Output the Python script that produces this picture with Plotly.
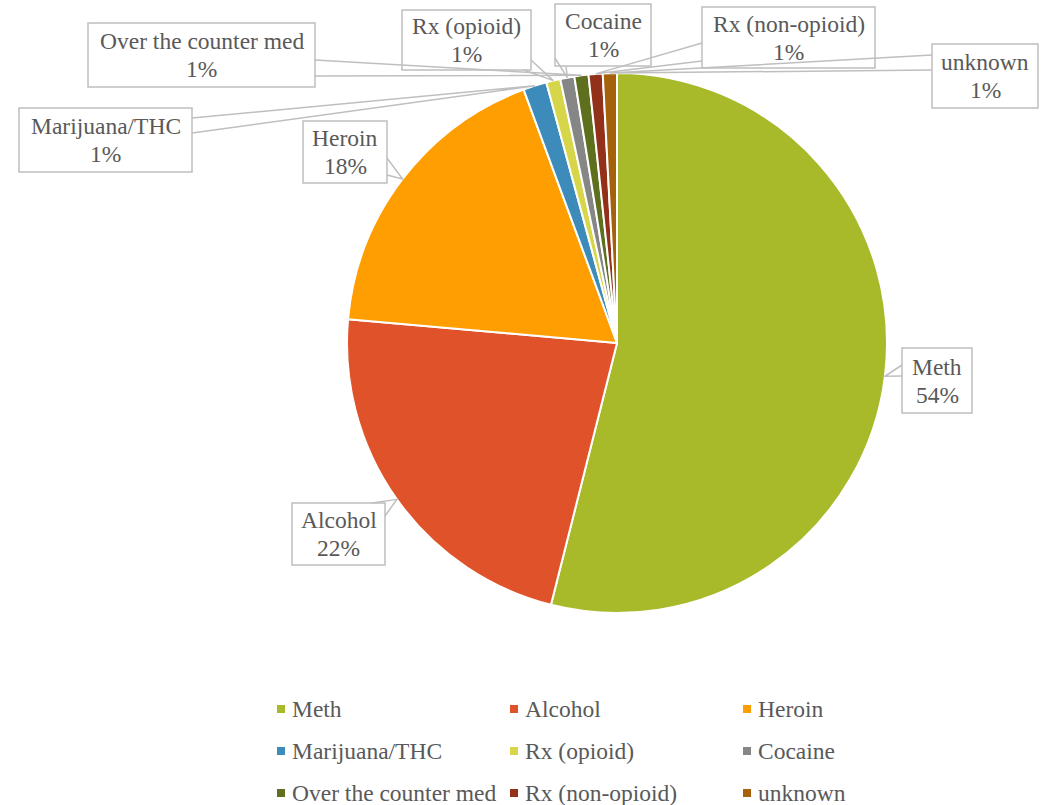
import math
import plotly.graph_objects as go

# ---- data ----
categories = ["Meth", "Alcohol", "Heroin", "Marijuana/THC", "Rx (opioid)",
              "Cocaine", "Over the counter med", "Rx (non-opioid)", "unknown"]
counts = [192, 80, 64, 5, 3, 3, 3, 3, 3]
colors = ["#A8B92A", "#E0532A", "#FF9E00", "#3C8BBA", "#D7D64A",
          "#868686", "#5E6F1E", "#93301A", "#A5620B"]

# ---- layout constants (pixels from top-left) ----
W, H = 1043, 805
CX, CY, R = 617, 343, 270
FONT = "Liberation Serif"
TXT = "#595959"
BORDER = "#BFBFBF"
FS = 23.5

# label boxes (x0, x1, y0, y1) and pointer base points
label_box = {
    "Meth": ((902, 972, 348, 413), [(902, 365), (902, 376)]),
    "Alcohol": ((292, 385, 503, 565), [(372, 503), (385, 516)]),
    "Heroin": ((303, 387, 121, 183), [(387, 158), (387, 175)]),
    "Marijuana/THC": ((19, 192, 108, 172), [(192, 118), (192, 133)]),
    "Rx (opioid)": ((402, 531, 10, 70), [(531, 60), (524, 70)]),
    "Cocaine": ((555, 651, 4, 66), [(555, 58), (566, 66)]),
    "Over the counter med": ((88, 315, 23, 87), [(315, 60), (315, 76)]),
    "Rx (non-opioid)": ((702, 875, 7, 68), [(702, 43), (702, 61)]),
    "unknown": ((932, 1038, 44, 108), [(932, 55), (932, 70)]),
}


def P(x, y):
    return x / W, 1 - y / H


total = sum(counts)

fig = go.Figure()
fig.add_trace(go.Pie(
    labels=categories, values=counts, sort=False, direction="clockwise",
    rotation=0, textinfo="none", hoverinfo="label+percent",
    marker=dict(colors=colors, line=dict(color="white", width=2)),
    domain=dict(x=[(CX - R) / W, (CX + R) / W], y=[1 - (CY + R) / H, 1 - (CY - R) / H]),
    showlegend=False,
))

shapes = []
annotations = []
cum = 0
for cat, v in zip(categories, counts):
    frac = v / total
    mid = (cum + frac / 2) * 2 * math.pi
    cum += frac
    tx = CX + R * math.sin(mid)
    ty = CY - R * math.cos(mid)
    (bx0, bx1, by0, by1), bases = label_box[cat]
    # box
    p0 = P(bx0, by0); p1 = P(bx1, by1)
    shapes.append(dict(type="rect", xref="paper", yref="paper",
                       x0=p0[0], y0=p1[1], x1=p1[0], y1=p0[1],
                       fillcolor="white", line=dict(color=BORDER, width=1.5), layer="above"))
    # pointer
    (x1, y1), (x2, y2) = bases
    a = P(x1, y1); t = P(tx, ty); b = P(x2, y2)
    shapes.append(dict(type="path", xref="paper", yref="paper",
                       path=f"M {a[0]},{a[1]} L {t[0]},{t[1]} L {b[0]},{b[1]}",
                       line=dict(color=BORDER, width=1.5), layer="above"))
    pct = round(frac * 100)
    cx = (bx0 + bx1) / 2
    cy = (by0 + by1) / 2
    for txt, dy in ((cat, -14), (f"{pct}%", 14)):
        lx, ly = P(cx, cy + dy)
        annotations.append(dict(x=lx, y=ly, xref="paper", yref="paper", text=txt,
                                showarrow=False, xanchor="center", yanchor="middle",
                                font=dict(family=FONT, size=FS, color=TXT)))

# ---- custom legend (3 columns) ----
col_x = [281, 514, 747]
row_y = [709, 751, 793]
for i, (cat, c) in enumerate(zip(categories, colors)):
    mx = col_x[i % 3]
    my = row_y[i // 3]
    q0 = P(mx - 4, my - 4)
    q1 = P(mx + 4, my + 4)
    shapes.append(dict(type="rect", xref="paper", yref="paper",
                       x0=q0[0], y0=q1[1], x1=q1[0], y1=q0[1], fillcolor=c, line=dict(width=0)))
    lx, ly = P(mx + 9, my)
    annotations.append(dict(x=lx, y=ly, xref="paper", yref="paper", text=cat,
                            showarrow=False, xanchor="left", yanchor="middle",
                            font=dict(family=FONT, size=FS, color=TXT)))

fig.update_layout(
    width=W, height=H, margin=dict(l=0, r=0, t=0, b=0),
    paper_bgcolor="white", plot_bgcolor="white",
    shapes=shapes, annotations=annotations,
)
fig.write_html("out.html", config={"displayModeBar": False},
               post_script="document.body.style.margin='0px';")
